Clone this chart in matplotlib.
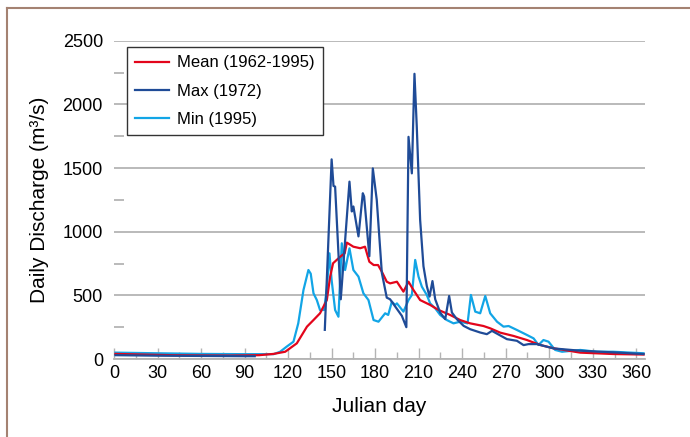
import numpy as np
import matplotlib
matplotlib.use("Agg")
import matplotlib.pyplot as plt
from matplotlib.lines import Line2D
from matplotlib.ticker import MultipleLocator

plt.rcParams['font.family'] = ['Liberation Sans', 'DejaVu Sans']

# ---- data ----
mean_days = [1, 20, 40, 60, 80, 100, 110, 118, 126, 133, 137.5, 142, 146.7, 149, 151, 156, 159,
             160.5, 165, 169.7, 173, 176, 179, 182, 184.6, 188, 190.3, 195, 199.5, 203, 206.4, 211,
             218, 223.7, 231.7, 238.6, 245.5, 254.7, 259.3, 266.2, 275.4, 284.6, 293.8, 303, 321.4,
             344.4, 365]
mean_q = [40, 35, 30, 28, 27, 30, 40, 57, 123, 254, 306, 359, 463, 647, 752, 804, 830,
          914, 882, 870, 882, 764, 738, 738, 686, 607, 594, 607, 529, 607, 542, 463,
          424, 385, 346, 306, 280, 259, 241, 207, 181, 149, 110, 84, 50,
          39, 35]

max_days = [1, 30, 60, 90, 97, 120, 145.3, 150, 151.3, 152.4, 156.3, 162.3, 163.9, 165, 168.5,
            171.5, 172.4, 176, 178.4, 181.1, 184.6, 188, 190.3, 198.4, 201.5, 203, 205.3, 207.1,
            208.7, 211, 213.3, 215.6, 217.5, 219.5, 221.4, 224.8, 228.3, 231, 232.9, 236.3, 241,
            245.5, 252.4, 257, 260.5, 270.8, 277.7, 282.3, 285.7, 291.5, 303, 321.4, 344.4, 365]
max_q = [30, 26, 24, 22, 22, np.nan, 229, 1568, 1359, 1354, 469, 1393, 1159, 1198, 963,
         1302, 1276, 807, 1497, 1250, 677, 482, 469, 339, 250, 1745, 1458, 2240,
         1823, 1094, 729, 573, 490, 612, 469, 365, 313, 495, 365, 313, 260,
         234, 208, 195, 221, 156, 143, 109, 117, 117, 83, 65, 52, 39]

min_days = [1, 30, 60, 90, 110, 114.5, 119, 123.7, 127, 130.6, 134, 135.6, 137.5, 139.8, 142,
            144.8, 146.7, 148.5, 150, 152.4, 154.7, 157, 159.3, 162.3, 165, 168.5, 171.9, 175.4,
            178.9, 182.3, 186.9, 189, 191.5, 193.8, 195, 199.5, 203, 205.3, 207.6, 209.9, 212.2,
            215.6, 217.9, 221.4, 224.8, 229.4, 234, 238.6, 243.7, 246, 249, 252.4, 255.9, 259.3,
            264, 268.5, 272, 277.7, 284.6, 289.2, 292.6, 296, 299.5, 304.1, 308.8, 321.4, 332.9,
            344, 365]
min_q = [50, 45, 40, 38, 38, 57, 97, 136, 280, 542, 699, 670, 516, 463, 385,
         385, 555, 830, 620, 385, 332, 909, 699, 869, 699, 647, 516, 463,
         306, 293, 359, 346, 450, 424, 437, 372, 463, 503, 778, 647, 568,
         503, 437, 398, 346, 306, 280, 293, 280, 503, 372, 359, 495, 359,
         293, 254, 259, 228, 189, 162, 110, 149, 136, 71, 57, 71, 57,
         57, 45]

labels = ["Mean (1962-1995)", "Max (1972)", "Min (1995)"]
colors = ["#e3051b", "#1f4b97", "#12a5e6"]
x_ticks = list(range(0, 361, 30))
y_ticks = list(range(0, 2501, 500))

# ---- figure ----
fig = plt.figure(figsize=(6.9, 4.37), dpi=100)
ax = fig.add_axes([114/690, 1-359/437, (645-114)/690, (359-40.7)/437])

ax.plot(mean_days, mean_q, color=colors[0], lw=1.6, label=labels[0], zorder=3)
ax.plot(max_days, max_q, color=colors[1], lw=1.6, label=labels[1], zorder=4)
ax.plot(min_days, min_q, color=colors[2], lw=1.6, label=labels[2], zorder=2)

ax.set_xlim(0, 366)
ax.set_ylim(0, 2500)
ax.set_xticks(x_ticks)
ax.xaxis.set_minor_locator(MultipleLocator(15))
ax.set_yticks(y_ticks)
ax.yaxis.set_minor_locator(MultipleLocator(250))

for s in ['top', 'right', 'left']:
    ax.spines[s].set_visible(False)
ax.spines['bottom'].set_color('#b4b4b4')
ax.spines['bottom'].set_linewidth(1.3)

ax.grid(axis='y', which='major', color='#b4b4b4', lw=1.3)
ax.set_axisbelow(True)

ax.tick_params(axis='x', which='major', direction='in', length=8, width=1, color='#b4b4b4',
               labelsize=13, pad=4)
ax.tick_params(axis='x', which='minor', direction='in', length=5, width=1, color='#b4b4b4')
ax.tick_params(axis='y', which='major', length=0, labelsize=13, pad=8)
ax.tick_params(axis='y', which='minor', direction='in', length=7, width=1.3, color='#b4b4b4')

ax.set_xlabel("Julian day", fontsize=15, labelpad=11)
ax.set_ylabel("Daily Discharge (m³/s)", fontsize=15, labelpad=10)

leg = ax.legend(loc='upper left', bbox_to_anchor=(0.0245, 0.98), borderaxespad=0,
                fancybox=False, framealpha=1, edgecolor='#333333', fontsize=12,
                handlelength=2.0, labelspacing=0.8, borderpad=0.5, handletextpad=0.5)
leg.get_frame().set_linewidth(1.0)

# outer brown frame (left and top)
bc = '#a48272'
fig.add_artist(Line2D([6.5/690, 6.5/690], [0, 1-8/437], color=bc, lw=1.5, transform=fig.transFigure))
fig.add_artist(Line2D([6.5/690, 1], [1-8/437, 1-8/437], color=bc, lw=1.5, transform=fig.transFigure))

fig.savefig("out.png", dpi=100)
